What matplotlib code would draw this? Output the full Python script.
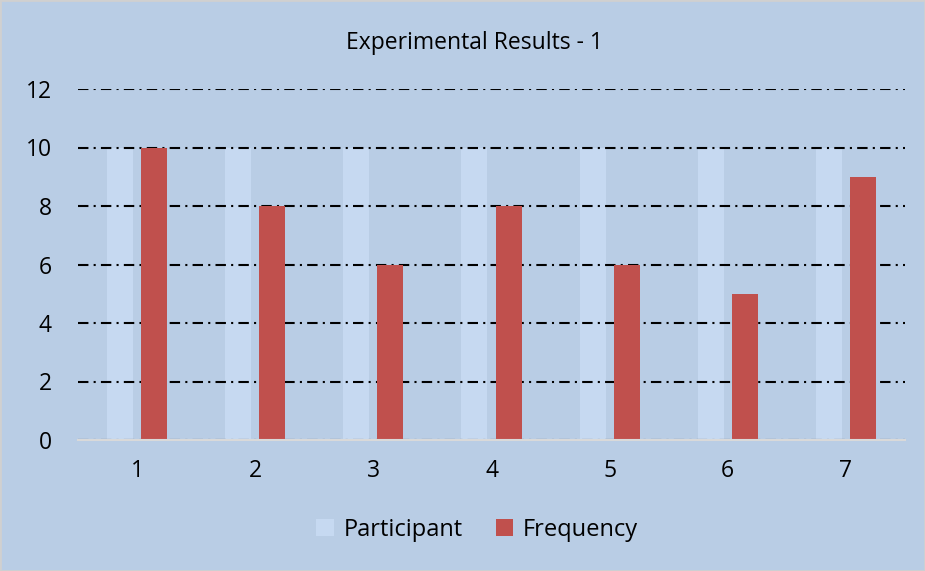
import matplotlib
matplotlib.use("Agg")
import matplotlib.pyplot as plt
import numpy as np
from matplotlib.patches import Rectangle

categories = ["1", "2", "3", "4", "5", "6", "7"]
participant = [10, 10, 10, 10, 10, 10, 10]
frequency = [10, 8, 6, 8, 6, 5, 9]
yticks = [0, 2, 4, 6, 8, 10, 12]

plt.rcParams['font.family'] = ['Open Sans', 'DejaVu Sans']

bg = '#B9CDE5'
fig = plt.figure(figsize=(9.25, 5.71), dpi=100, facecolor=bg)
fig.patches.append(Rectangle((0, 0), 1, 1, transform=fig.transFigure,
                             fill=False, edgecolor='#D0D0D0', linewidth=2))
ax = fig.add_axes([78/925, 1 - 440/571, (905-78)/925, (440-89)/571])
ax.set_facecolor(bg)

x = np.arange(len(categories))
w = 0.22
off = 0.144
ax.bar(x - off, participant, width=w, color='#C6D9F1', label='Participant', zorder=1)
ax.bar(x + off, frequency, width=w, color='#C0504D', label='Frequency', zorder=3)

ax.set_xlim(-0.5, len(categories) - 0.5)
ax.set_ylim(0, 12)
ax.set_yticks(yticks)
ax.set_xticks(x)
ax.set_xticklabels(categories)
ax.yaxis.grid(True, color='black', linestyle=(0, (5, 2.5, 1, 2.5)), linewidth=1.5, zorder=2)
ax.set_axisbelow(False)
for s in ['top', 'right', 'left']:
    ax.spines[s].set_visible(False)
ax.spines['bottom'].set_color('#D9D9D9')
ax.spines['bottom'].set_linewidth(1.5)
ax.spines['bottom'].set_zorder(4)
ax.tick_params(axis='both', length=0, labelsize=16.5)
ax.tick_params(axis='x', pad=14)
ax.tick_params(axis='y', pad=19)

fig.text(474/925, 1 - 43/571, 'Experimental Results - 1', ha='center', va='center', fontsize=16.5)

fig.legend(loc='center', bbox_to_anchor=(477/925, 1 - 530/571), ncol=2, frameon=False,
           fontsize=17, handlelength=0.75, handleheight=0.75, columnspacing=1.4, handletextpad=0.4)

fig.savefig('out.png', dpi=100, facecolor=bg)
